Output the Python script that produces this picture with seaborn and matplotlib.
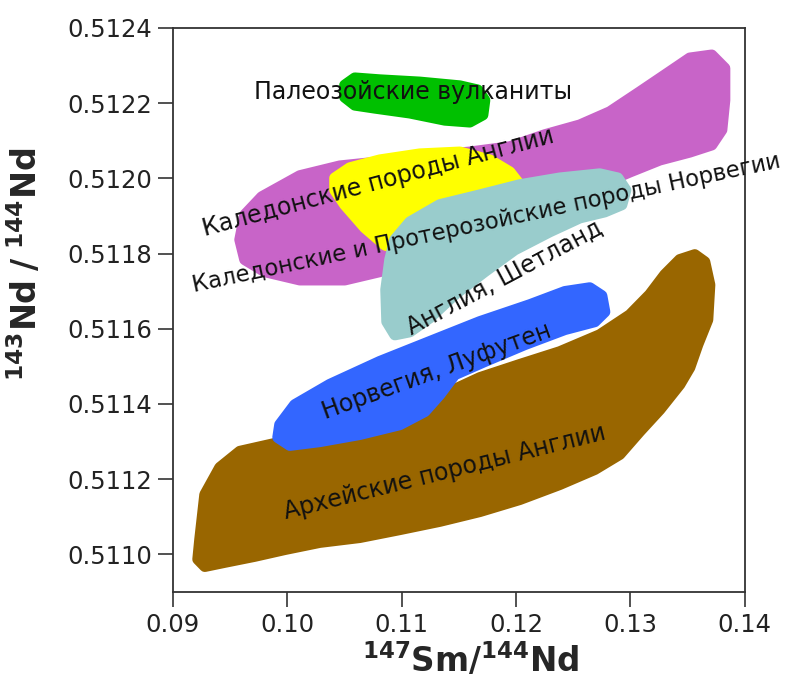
import numpy as np
import pandas as pd
import seaborn as sns
import matplotlib.pyplot as plt

# outlines of the fields, (147Sm/144Nd, 143Nd/144Nd)
paleozoic_x = [0.10503, 0.10591, 0.10809, 0.11159, 0.11509, 0.11666, 0.11727, 0.11710,
               0.11596, 0.11378, 0.11072, 0.10766, 0.10591, 0.10503]
paleozoic_y = [0.512248, 0.512267, 0.512262, 0.512256, 0.512246, 0.512235, 0.512208, 0.512169,
               0.512150, 0.512155, 0.512174, 0.512187, 0.512195, 0.512216]

caled_nor_x = [0.09586, 0.09629, 0.09778, 0.10110, 0.10460, 0.10809, 0.11159, 0.11596, 0.11946,
               0.12252, 0.12558, 0.12820, 0.13082, 0.13301, 0.13519, 0.13711, 0.13825, 0.13825,
               0.13799, 0.13711, 0.13519, 0.13257, 0.12995, 0.12732, 0.12033, 0.11509, 0.10984,
               0.10809, 0.10503, 0.10110, 0.09804, 0.09629]
caled_nor_y = [0.511837, 0.511903, 0.511951, 0.512007, 0.512033, 0.512044, 0.512057, 0.512070, 0.512084,
               0.512116, 0.512142, 0.512177, 0.512230, 0.512275, 0.512320, 0.512328, 0.512293, 0.512208,
               0.512129, 0.512089, 0.512070, 0.512049, 0.512017, 0.511983, 0.511903, 0.511837, 0.511778,
               0.511752, 0.511730, 0.511730, 0.511752, 0.511784]

caled_eng_x = [0.10416, 0.10547, 0.10809, 0.11159, 0.11509, 0.11771, 0.11946, 0.12033,
               0.11684, 0.11246, 0.10984, 0.10853, 0.10678, 0.10503, 0.10416]
caled_eng_y = [0.512001, 0.512028, 0.512049, 0.512065, 0.512070, 0.512049, 0.512017, 0.511983,
               0.511903, 0.511850, 0.511810, 0.511823, 0.511869, 0.511930, 0.511969]

shetland_x = [0.10941, 0.11072, 0.11334, 0.11684, 0.12033, 0.12383, 0.12732, 0.12890, 0.12960,
              0.12925, 0.12776, 0.12558, 0.12295, 0.11989, 0.11727, 0.11465, 0.11246, 0.11072,
              0.10941, 0.10871, 0.10862, 0.10897]
shetland_y = [0.511837, 0.511884, 0.511930, 0.511956, 0.511983, 0.512001, 0.512012, 0.512001, 0.511969,
              0.511930, 0.511911, 0.511895, 0.511858, 0.511810, 0.511752, 0.511691, 0.511629, 0.511592,
              0.511584, 0.511619, 0.511704, 0.511784]

lofoten_x = [0.09935, 0.10066, 0.10372, 0.10809, 0.11246, 0.11684, 0.12121, 0.12427, 0.12645,
             0.12750, 0.12776, 0.12689, 0.12427, 0.12077, 0.11727, 0.11465, 0.11334, 0.11203,
             0.10984, 0.10635, 0.10285, 0.10023, 0.09918]
lofoten_y = [0.511345, 0.511398, 0.511452, 0.511513, 0.511566, 0.511619, 0.511664, 0.511699, 0.511709,
             0.511688, 0.511645, 0.511619, 0.511598, 0.511558, 0.511513, 0.511478, 0.511425, 0.511380,
             0.511345, 0.511319, 0.511300, 0.511290, 0.511311]

archean_x = [0.09280, 0.09411, 0.09586, 0.09892, 0.10285, 0.10722, 0.11159, 0.11421, 0.11684, 0.12033,
             0.12383, 0.12732, 0.12995, 0.13169, 0.13301, 0.13432, 0.13563, 0.13650, 0.13694, 0.13676,
             0.13589, 0.13519, 0.13432, 0.13257, 0.13082, 0.12907, 0.12689, 0.12383, 0.12033, 0.11684,
             0.11334, 0.10984, 0.10635, 0.10285, 0.09979, 0.09717, 0.09455, 0.09280, 0.09219, 0.09236]
archean_y = [0.511159, 0.511231, 0.511274, 0.511295, 0.511300, 0.511324, 0.511364, 0.511433, 0.511470, 0.511505,
             0.511539, 0.511584, 0.511637, 0.511691, 0.511744, 0.511784, 0.511797, 0.511778, 0.511717, 0.511624,
             0.511558, 0.511497, 0.511452, 0.511385, 0.511327, 0.511266, 0.511226, 0.511186, 0.511146, 0.511114,
             0.511088, 0.511066, 0.511045, 0.511032, 0.511013, 0.510995, 0.510979, 0.510968, 0.510987, 0.511040]

# field labels: text, x, y, rotation, size
labels = ["Палеозойские вулканиты", "Каледонские породы Англии",
          "Каледонские и Протерозойские породы Норвегии", "Англия, Шетланд",
          "Норвегия, Луфутен", "Архейские породы Англии"]
label_x = [0.11098, 0.10792, 0.11740, 0.11902, 0.11308, 0.11378]
label_y = [0.512230, 0.511988, 0.511880, 0.511736, 0.511486, 0.511218]
label_rot = [0, 15, 12, 28, 20, 14]
label_size = [17, 17, 16.3, 17, 17, 17]

x_ticks = [0.09, 0.10, 0.11, 0.12, 0.13, 0.14]
y_ticks = [0.5110, 0.5112, 0.5114, 0.5116, 0.5118, 0.5120, 0.5122, 0.5124]

fields = [
    (caled_nor_x, caled_nor_y, "#c864c8"),
    (caled_eng_x, caled_eng_y, "#ffff00"),
    (shetland_x, shetland_y, "#99cccc"),
    (paleozoic_x, paleozoic_y, "#00c000"),
    (archean_x, archean_y, "#996600"),
    (lofoten_x, lofoten_y, "#3366ff"),
]

sns.set_style("ticks")
plt.rcParams['font.family'] = ['DejaVu Sans']

fig = plt.figure(figsize=(8, 6.81), dpi=100)
ax = fig.add_axes([0.216, 0.1307, 0.715, 0.8282])

for fx, fy, col in fields:
    ax.fill(fx, fy, facecolor=col, edgecolor=col, linewidth=8, joinstyle='round', zorder=2)

for txt, tx, ty, rot, fs in zip(labels, label_x, label_y, label_rot, label_size):
    ax.text(tx, ty, txt, rotation=rot, ha='center', va='center', fontsize=fs,
            color='#111111', rotation_mode='anchor', zorder=5)

ax.set_xlim(0.09, 0.14)
ax.set_ylim(0.5109, 0.5124)
ax.set_xticks(x_ticks)
ax.set_xticklabels([f"{v:.2f}" for v in x_ticks])
ax.set_yticks(y_ticks)
ax.set_yticklabels([f"{v:.4f}" for v in y_ticks])
ax.tick_params(direction='out', length=11, width=1.2, colors='#333333', labelsize=17.5,
               labelcolor='#222222', pad=4)
for s in ax.spines.values():
    s.set_color('#333333')
    s.set_linewidth(1.3)

ax.set_xlabel(r'$\mathbf{^{147}Sm/^{144}Nd}$', fontsize=23.5)
ax.set_ylabel(r'$\mathbf{^{143}Nd\;/\;^{144}Nd}$', fontsize=24)
ax.xaxis.set_label_coords(0.52, -0.088)
ax.yaxis.set_label_coords(-0.225, 0.58)

fig.savefig("out.png", dpi=100)
